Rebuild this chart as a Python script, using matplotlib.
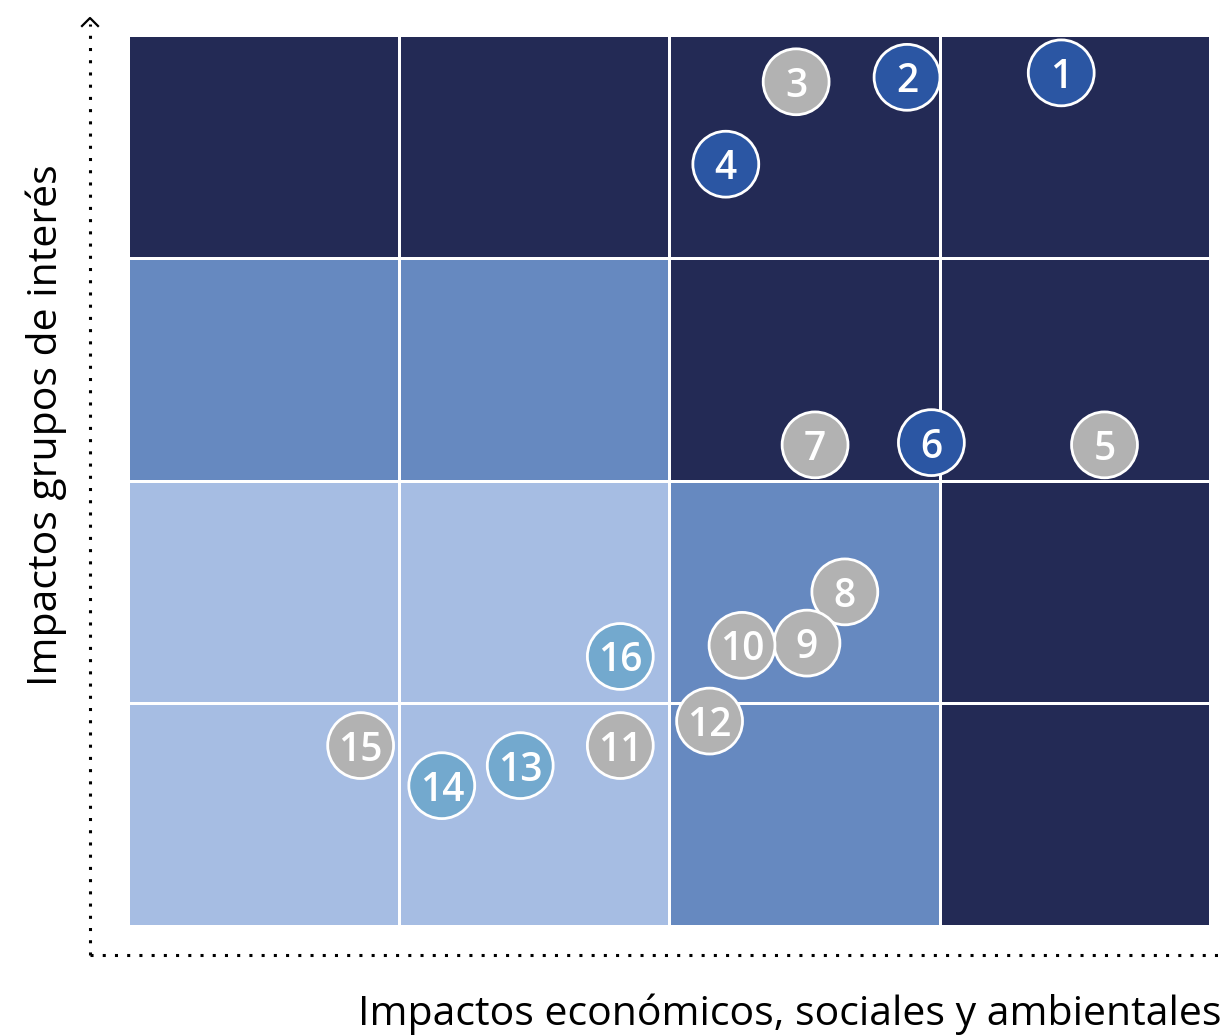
import numpy as np
import matplotlib.pyplot as plt
from matplotlib.colors import ListedColormap

plt.rcParams['font.family'] = ['Open Sans', 'DejaVu Sans']

# nivel de cada celda de la matriz (fila 0 = abajo): 0 claro, 1 medio, 2 oscuro
cell_levels = [
    [0, 0, 1, 2],
    [0, 0, 1, 2],
    [1, 1, 2, 2],
    [2, 2, 2, 2],
]
cell_colors = ['#A6BDE3', '#6689C0', '#232A55']

# temas materiales
labels = ['1', '2', '3', '4', '5', '6', '7', '8', '9', '10', '11', '12', '13', '14', '15', '16']
x_vals = [3.45, 2.88, 2.47, 2.21, 3.61, 2.97, 2.54, 2.65, 2.51, 2.27, 1.82, 2.15, 1.45, 1.16, 0.86, 1.82]
y_vals = [3.83, 3.81, 3.79, 3.42, 2.16, 2.17, 2.16, 1.50, 1.27, 1.26, 0.81, 0.92, 0.72, 0.63, 0.81, 1.21]
groups = ['azul', 'azul', 'gris', 'azul', 'gris', 'azul', 'gris', 'gris', 'gris', 'gris',
          'gris', 'gris', 'celeste', 'celeste', 'gris', 'celeste']
group_colors = {'azul': '#2B56A3', 'gris': '#B2B2B2', 'celeste': '#73A9CE'}

W, H = 1224, 1036
fig = plt.figure(figsize=(W / 100, H / 100), dpi=100)

# capa de fondo para ejes punteados y títulos
bg = fig.add_axes([0, 0, 1, 1])
bg.set_xlim(0, W)
bg.set_ylim(H, 0)
bg.axis('off')
bg.plot([90, 90], [955, 24], ls=(0, (1, 3)), color='black', lw=2.2)
bg.plot([90, 1222], [955, 955], ls=(0, (1, 3)), color='black', lw=2.2)
bg.plot([82, 90, 98], [26, 18, 26], color='black', lw=1.6)
bg.text(1221, 1014, 'Impactos económicos, sociales y ambientales', ha='right', va='center',
        fontsize=29.5)
bg.text(46, 425, 'Impactos grupos de interés', ha='center', va='center', rotation=90,
        fontsize=29.5)

# matriz
ax = fig.add_axes([128 / W, (H - 926) / H, 1082 / W, 891 / H])
cmap = ListedColormap(cell_colors)
ax.pcolormesh(np.arange(5), np.arange(5), np.array(cell_levels), cmap=cmap, vmin=-0.5, vmax=2.5,
              edgecolors='white', linewidth=2)
ax.set_xlim(0, 4)
ax.set_ylim(0, 4)
ax.axis('off')

colors = [group_colors[g] for g in groups]
ax.scatter(x_vals, y_vals, s=2250, c=colors, edgecolors='white', linewidths=2, zorder=3,
           clip_on=False)
for lab, x, y in zip(labels, x_vals, y_vals):
    ax.text(x, y, lab, ha='center', va='center_baseline', color='white', fontsize=28,
            fontweight='semibold', zorder=4)

fig.savefig('out.png', dpi=100)
